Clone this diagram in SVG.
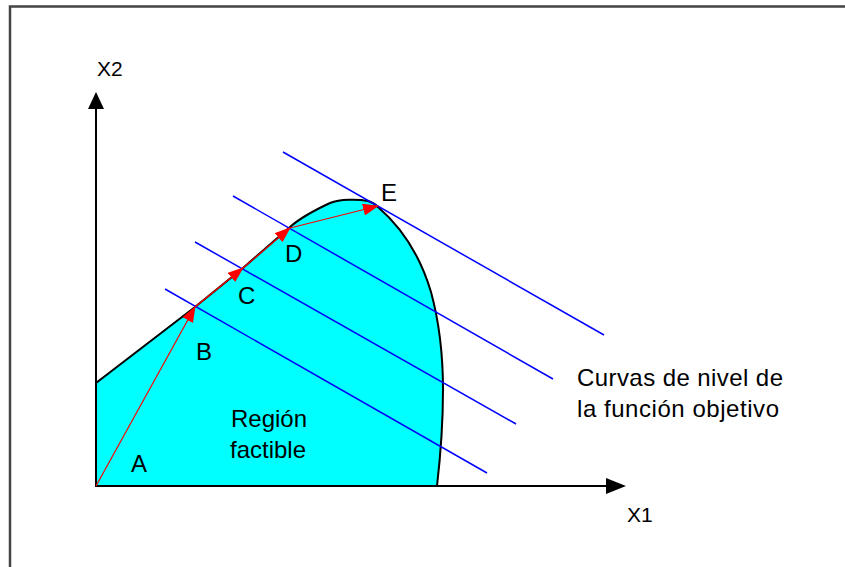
<svg xmlns="http://www.w3.org/2000/svg" width="845" height="567" viewBox="0 0 845 567">
<style>
.lbl{font-family:"Liberation Sans",Arial,sans-serif;font-size:24px;fill:#000}
.ax{font-family:"Liberation Sans",Arial,sans-serif;font-size:21px;fill:#000}
.lvl{stroke:#0000ff;stroke-width:1.5;fill:none}
.path{stroke:#ff0000;stroke-width:1.2;fill:none;marker-end:url(#rarrow)}
.axis{stroke:#000;stroke-width:2;fill:none}
</style>
<defs>
<marker id="rarrow" viewBox="0 0 16 12" refX="15" refY="6" markerWidth="16" markerHeight="12" markerUnits="userSpaceOnUse" orient="auto">
<path d="M0,0 L16,6 L0,12 Z" fill="#ff0000"/>
</marker>
</defs>
<rect x="0" y="0" width="845" height="567" fill="#fff"/>
<rect x="10" y="6.5" width="900" height="620" fill="none" stroke="#444" stroke-width="2.5"/>
<g id="region">
<path d="M96,486 L96,383 L195,307 L243,268 L290,227 C300,218 315,210 330,203 C340,199 358,199 368,201 C372,202 375,204 378,207 C400,226 420,255 431,292 C440,325 443,355 443,390 C443,430 440,460 437,486 Z" fill="#00ffff" stroke="#000" stroke-width="2"/>
<text class="lbl" x="231" y="427">Región</text>
<text class="lbl" x="230" y="458">factible</text>
</g>
<g id="axes">
<line class="axis" x1="96" y1="486" x2="96" y2="105"/>
<polygon points="96,92 88,109 104,109" fill="#000"/>
<line class="axis" x1="96" y1="486" x2="612" y2="486"/>
<polygon points="626,486 606,478 606,494" fill="#000"/>
<text class="ax" x="97" y="76">X2</text>
<text class="ax" x="627" y="522">X1</text>
</g>
<g id="level-curves">
<line class="lvl" x1="283" y1="152" x2="604" y2="335"/>
<line class="lvl" x1="233" y1="196" x2="553" y2="379"/>
<line class="lvl" x1="195" y1="242" x2="516" y2="424"/>
<line class="lvl" x1="165" y1="289" x2="487" y2="473"/>
<text class="lbl" x="577" y="386" textLength="206">Curvas de nivel de</text>
<text class="lbl" x="577" y="417" textLength="202">la función objetivo</text>
</g>
<g id="connectors">
<line class="path" x1="96" y1="486" x2="195" y2="307"/>
<line class="path" x1="195" y1="307" x2="243" y2="268"/>
<line class="path" x1="243" y1="268" x2="290" y2="228"/>
<line class="path" x1="290" y1="228" x2="378" y2="206"/>
</g>
<g id="points">
<text class="lbl" x="131" y="472">A</text>
<text class="lbl" x="196" y="360">B</text>
<text class="lbl" x="238" y="304">C</text>
<text class="lbl" x="285" y="262">D</text>
<text class="lbl" x="381" y="201">E</text>
</g>
</svg>
